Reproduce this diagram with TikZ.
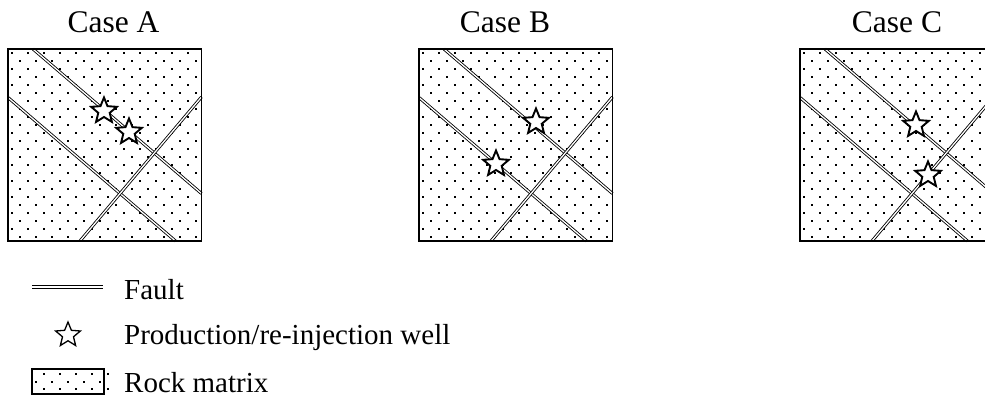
\documentclass[tikz,border=0pt]{standalone}
\usepackage{fontspec}
\setmainfont{Liberation Serif}
\usetikzlibrary{shapes.geometric}
\tikzset{
  fault/.style={draw=black, line width=0.85pt, double=white, double distance=1.3pt},
  faultedge/.style={draw=black, line width=1pt},
  framebox/.style={draw=black, line width=1.9pt},
  wellstar/.style={star, star points=5, star point ratio=2.25, minimum size=27pt, inner sep=0pt, draw=black, fill=white, line width=1.9pt},
  legstar/.style={star, star points=5, star point ratio=2.25, minimum size=26pt, inner sep=0pt, draw=black, fill=white, line width=1.3pt},
  dot/.style={fill=black},
  title/.style={font=\fontsize{31.5}{36}\selectfont, anchor=base, inner sep=0pt},
  legtext/.style={font=\fontsize{29}{34}\selectfont, anchor=base west, inner sep=0pt}
}
\newcommand{\mycase}[1]{%
  \fill[white] (#1,49) rectangle (#1+193.5,241);
  \foreach \j in {0,...,23}{
    \pgfmathtruncatemacro\s{mod(\j,2)}
    \foreach \i in {0,...,11}{
      \fill[dot] ({#1+3+8*\s+16*\i}, {52+8*\j}) rectangle ++(2,2);
    }
  }
  \draw[fault] (#1+25,49) -- (#1+193.5,193.5);
  \draw[fault] (#1,97.5) -- (#1+167.5,241);
  \draw[fault] (#1+72,241) -- (#1+193.5,97);
  \draw[framebox] (#1,49) rectangle (#1+193.5,241);
}
\begin{document}
\begin{tikzpicture}[x=1pt,y=-1pt]
\clip (0,0) rectangle (985,399);
\fill[white] (0,0) rectangle (985,399);

\mycase{8}
\mycase{419}
\mycase{800}

\node[title] (tA) at (113.5,32) {Case A};
\node[title] (tB) at (505,32) {Case B};
\node[title] (tC) at (897,32) {Case C};

\node[wellstar] (a1) at (104,111) {};
\node[wellstar] (a2) at (129,132) {};
\node[wellstar] (b1) at (536,122) {};
\node[wellstar] (b2) at (496,164) {};
\node[wellstar] (c1) at (916,125) {};
\node[wellstar] (c2) at (928,175) {};

% legend
\coordinate (fl1) at (32,285.5);
\coordinate (fr1) at (103,285.5);
\coordinate (fl2) at (32,288.5);
\coordinate (fr2) at (103,288.5);
\draw[faultedge] (fl1) -- (fr1);
\draw[faultedge] (fl2) -- (fr2);
\node[legtext] (lf) at (124,299) {Fault};
\node[legstar] (ls) at (68,335) {};
\node[legtext] (lw) at (124,344) {Production/re-injection well};
\fill[white] (32,369) rectangle (104,394);
\foreach \j in {0,1,2}{
  \pgfmathtruncatemacro\s{mod(\j,2)}
  \foreach \i in {0,...,4}{
    \fill[dot] ({35+8*(1-\s)+16*\i}, {373+7.5*\j}) rectangle ++(2,2);
  }
}
\draw[framebox, line width=1.8pt] (32,369) rectangle (104,394);
\node[legtext] (lr) at (124,392) {Rock matrix};
\end{tikzpicture}
\end{document}
